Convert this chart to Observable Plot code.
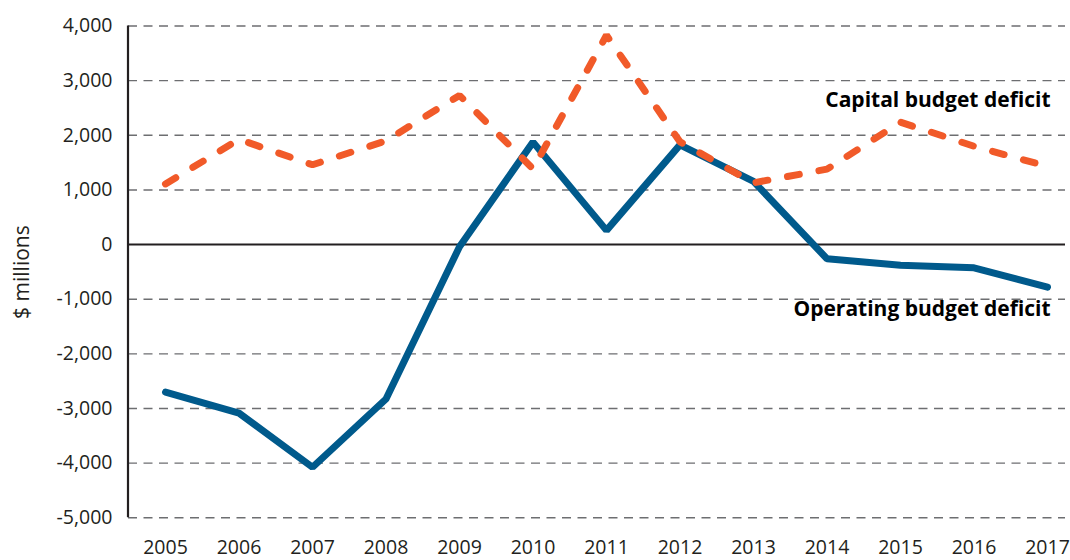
<!DOCTYPE html>
<html>
<head>
<meta charset="utf-8">
<script src="https://cdn.jsdelivr.net/npm/d3@7"></script>
<script src="https://cdn.jsdelivr.net/npm/@observablehq/plot@0.6"></script>
<style>
  html, body { margin: 0; padding: 0; background: #fff; }
  #chart svg { display: block; }
</style>
</head>
<body>
<div id="chart"></div>
<script>
const years = [2005, 2006, 2007, 2008, 2009, 2010, 2011, 2012, 2013, 2014, 2015, 2016, 2017];
const operating = [-2700, -3085, -4075, -2825, -40, 1875, 260, 1825, 1155, -260, -380, -425, -780];
const capital = [1110, 1925, 1460, 1900, 2730, 1385, 3830, 1880, 1130, 1380, 2240, 1800, 1430];
const yTicks = [4000, 3000, 2000, 1000, 0, -1000, -2000, -3000, -4000, -5000];
const seriesLabels = [
  {text: "Capital budget deficit", year: 2017, value: 2650},
  {text: "Operating budget deficit", year: 2017, value: -1190}
];
const yTitle = "$ millions";

const opData = years.map((y, i) => ({year: y, value: operating[i]}));
const capData = years.map((y, i) => ({year: y, value: capital[i]}));
const fmt = d => d3.format(",")(d).replace("\u2212", "-");
const font = "'Open Sans', 'Noto Sans', sans-serif";

const yAxisLine = (index, scales, values, dim) => {
  const ns = "http://www.w3.org/2000/svg";
  const l = document.createElementNS(ns, "line");
  l.setAttribute("x1", dim.marginLeft);
  l.setAttribute("x2", dim.marginLeft);
  l.setAttribute("y1", scales.y(4000));
  l.setAttribute("y2", scales.y(-5000));
  l.setAttribute("stroke", "#231f20");
  l.setAttribute("stroke-width", 2.2);
  return l;
};

const chart = Plot.plot({
  width: 1070,
  height: 560,
  marginLeft: 128,
  marginRight: 5,
  marginTop: 25.5,
  marginBottom: 42.7,
  style: {fontFamily: font, background: "#fff", color: "#231f20", fontSize: "19.5px"},
  x: {domain: [2005, 2017], range: [165, 1047]},
  y: {domain: [-5000, 4000]},
  marks: [
    Plot.ruleY(yTicks.filter(d => d !== 0), {stroke: "#6d6e71", strokeWidth: 1.4, strokeDasharray: "9,6.5"}),
    Plot.ruleY([0], {stroke: "#231f20", strokeWidth: 2}),
    yAxisLine,
    Plot.axisY({ticks: yTicks, tickFormat: fmt, tickSize: 0, tickPadding: 16, fontSize: 19.5, label: null}),
    Plot.axisX({ticks: years, tickFormat: d => String(d), tickSize: 0, tickPadding: 22, fontSize: 19.5, label: null}),
    Plot.line(opData, {x: "year", y: "value", stroke: "#005a8c", strokeWidth: 7, strokeLinejoin: "miter"}),
    Plot.line(capData, {x: "year", y: "value", stroke: "#f15a29", strokeWidth: 7, strokeDasharray: "12,20", strokeLinecap: "round", strokeLinejoin: "miter"}),
    Plot.text(seriesLabels, {x: "year", y: "value", text: "text", textAnchor: "end", dx: 3, fontSize: 21, fontWeight: "bold", fill: "#000"}),
    Plot.text([yTitle], {frameAnchor: "left", dx: -106, dy: 47, rotate: -90, fontSize: 21, fill: "#231f20"})
  ]
});
document.getElementById("chart").appendChild(chart);
</script>
</body>
</html>
